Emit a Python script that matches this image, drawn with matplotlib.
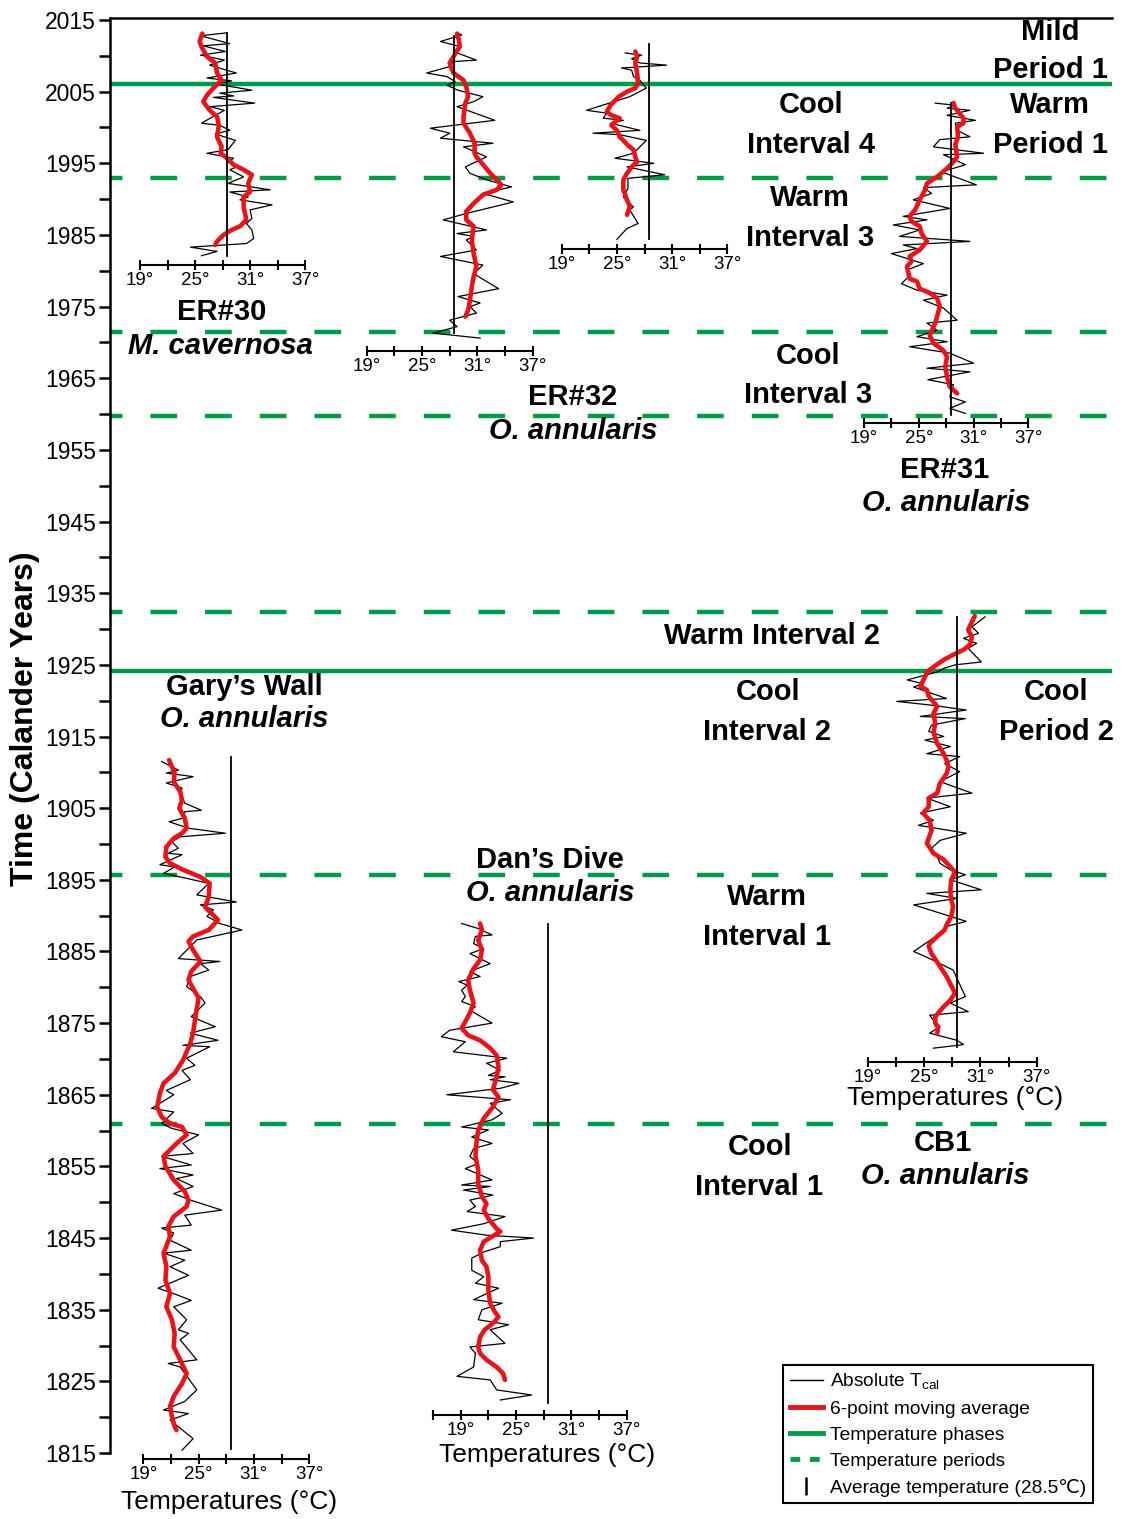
import numpy as np
import matplotlib
matplotlib.use("Agg")
import matplotlib.pyplot as plt
from matplotlib.lines import Line2D

plt.rcParams['font.family'] = ['Liberation Sans', 'DejaVu Sans']

# ---- data -------------------------------------------------------------
# temperature phase boundaries (solid) and period boundaries (dashed)
phase_years = [2006.0, 1924.2]
period_years = [1993.0, 1971.4, 1959.7, 1932.4, 1895.7, 1860.9]
avg_temp = 28.5

# ER#30 (M. cavernosa)
er30_year = [2013.2, 2012.8, 2011.7, 2011.4, 2010.6, 2010.1, 2009.4, 2008.7, 2007.6, 2006.9,
             2006.5, 2006.1, 2005.2, 2004.8, 2004.4, 2004.2, 2003.4, 2002.9, 2002.4, 2000.6,
             2000.3, 1999.6, 1999.1, 1998.2, 1996.9, 1996.4, 1995.7, 1995.2, 1994.5, 1994.1,
             1993.1, 1992.2, 1991.3, 1991.0, 1990.3, 1989.9, 1989.2, 1988.5, 1987.3, 1986.6,
             1985.7, 1984.5, 1983.8, 1983.3, 1982.7, 1982.1]
er30_temp = [28.4, 25.6, 28.8, 25.9, 28.3, 25.6, 28.2, 26.6, 29.5, 26.3,
             29.0, 27.2, 31.2, 27.7, 29.2, 27.0, 31.5, 26.6, 28.2, 25.7,
             27.7, 28.8, 27.2, 29.4, 28.6, 26.3, 29.2, 28.6, 29.5, 28.8,
             30.3, 28.6, 33.2, 28.8, 30.8, 29.9, 33.4, 31.0, 31.2, 30.6,
             31.2, 31.4, 30.6, 24.5, 27.4, 25.7]
er30_ma_year = [2013.1, 2012.0, 2011.3, 2009.9, 2009.0, 2007.6, 2006.6, 2005.5, 2004.5, 2003.6,
                2002.4, 2001.5, 2000.3, 1998.7, 1997.3, 1996.4, 1995.7, 1994.8, 1994.1, 1993.4,
                1992.2, 1991.0, 1990.3, 1988.9, 1987.1, 1986.2, 1985.7, 1985.0, 1984.1, 1983.6]
er30_ma_temp = [25.8, 25.5, 25.7, 26.3, 27.2, 27.4, 27.9, 27.0, 26.3, 25.9,
                26.6, 27.4, 27.6, 27.4, 27.9, 27.8, 28.5, 29.2, 30.3, 31.2,
                30.8, 31.0, 30.3, 30.3, 30.6, 29.9, 29.0, 28.1, 27.4, 27.2]

# ER#32 (O. annularis)
er32_year = [2013.2, 2012.9, 2012.0, 2011.3, 2010.6, 2009.4, 2009.2, 2008.5, 2007.6, 2007.1,
             2006.4, 2005.9, 2005.2, 2004.3, 2003.6, 2002.9, 2001.0, 1999.9, 1999.2, 1998.5,
             1997.8, 1997.3, 1995.9, 1994.5, 1993.6, 1992.7, 1991.7, 1990.8, 1989.6, 1988.0,
             1987.1, 1985.7, 1985.2, 1984.8, 1984.3, 1982.9, 1982.0, 1980.8, 1979.6, 1977.5,
             1976.4, 1975.5, 1975.0, 1974.1, 1973.1, 1972.2, 1971.3, 1970.6]
er32_temp = [28.8, 29.3, 27.0, 29.1, 28.4, 30.9, 28.4, 28.0, 25.5, 27.7,
             28.6, 27.7, 28.9, 31.6, 30.6, 28.8, 32.9, 25.9, 28.0, 27.0,
             32.7, 29.5, 32.0, 29.7, 30.2, 32.0, 34.7, 31.6, 34.9, 29.8,
             27.3, 32.0, 28.8, 30.6, 29.8, 30.9, 27.0, 31.6, 30.6, 33.3,
             28.9, 31.3, 30.2, 30.9, 28.0, 28.8, 26.2, 31.3]
er32_ma_year = [2013.1, 2012.2, 2011.3, 2010.3, 2009.0, 2007.6, 2006.6, 2005.7, 2004.3, 2003.4,
                2001.5, 2000.6, 1999.2, 1997.8, 1996.4, 1995.9, 1995.0, 1993.6, 1992.7, 1992.0,
                1991.3, 1990.6, 1989.4, 1988.3, 1987.1, 1986.2, 1984.3, 1982.4, 1980.6, 1979.2,
                1977.8, 1975.9, 1974.5, 1973.6]
er32_ma_temp = [28.8, 29.0, 29.1, 28.6, 28.0, 28.4, 29.5, 29.8, 30.0, 29.7,
                29.5, 29.5, 30.2, 30.7, 30.7, 30.9, 31.5, 32.4, 33.1, 33.6,
                33.1, 31.6, 30.6, 29.8, 29.8, 30.6, 30.4, 30.6, 30.9, 30.6,
                30.4, 30.2, 30.0, 29.7]

# unlabelled short record (top middle)
short_year = [2010.4, 2010.1, 2009.6, 2009.0, 2008.7, 2008.3, 2008.0, 2007.1, 2006.6, 2005.9,
              2005.5, 2004.3, 2002.4, 2002.0, 2001.3, 2001.0, 2000.6, 1999.6, 1999.2, 1999.0,
              1998.2, 1996.4, 1995.7, 1995.0, 1994.5, 1993.4, 1992.9, 1991.5, 1990.3, 1988.9,
              1988.5, 1986.6, 1985.9, 1984.4]
short_temp = [25.9, 27.7, 26.6, 27.5, 30.4, 25.5, 26.6, 26.8, 27.5, 27.9,
              28.2, 26.4, 21.7, 23.9, 23.5, 25.7, 24.3, 27.5, 22.4, 25.3,
              28.2, 26.8, 24.8, 29.0, 26.1, 30.2, 26.2, 26.2, 25.7, 26.8,
              26.4, 27.3, 26.1, 25.0]
short_ma_year = [2010.6, 2009.9, 2009.0, 2007.6, 2006.2, 2005.5, 2005.0, 2004.3, 2003.1, 2002.2,
                 2001.7, 2001.3, 2000.3, 1999.6, 1998.7, 1998.2, 1997.5, 1996.9, 1995.9, 1995.2,
                 1994.5, 1993.6, 1992.7, 1991.3, 1989.9, 1989.0, 1988.2, 1987.8]
short_ma_temp = [27.0, 27.2, 27.0, 27.2, 27.3, 27.0, 26.1, 25.2, 24.3, 23.9,
                 24.4, 25.3, 24.4, 25.0, 25.3, 25.7, 26.2, 26.8, 27.0, 27.2,
                 26.6, 26.1, 25.7, 25.7, 26.1, 26.4, 26.2, 26.1]

# ER#31 (O. annularis)
er31_year = [2003.4, 2003.1, 2002.7, 2002.4, 2001.7, 2001.0, 2000.6, 1999.6, 1998.7, 1998.3,
             1997.3, 1996.4, 1996.2, 1994.8, 1993.8, 1992.0, 1991.6, 1990.8, 1989.9, 1988.7,
             1987.6, 1987.1, 1986.4, 1985.7, 1984.8, 1984.1, 1983.6, 1983.1, 1982.4, 1981.0,
             1980.1, 1979.2, 1978.2, 1977.3, 1976.6, 1975.9, 1974.8, 1973.1, 1972.7, 1971.7,
             1970.8, 1970.1, 1969.4, 1968.5, 1967.1, 1966.4, 1965.9, 1964.8, 1964.1, 1962.4,
             1961.7, 1960.8, 1960.1]
er31_temp = [26.8, 29.0, 28.1, 30.6, 28.1, 31.2, 29.0, 29.2, 30.6, 27.3,
             26.6, 32.1, 27.7, 30.1, 27.5, 31.3, 25.5, 26.4, 24.4, 28.4,
             23.3, 25.9, 22.2, 25.1, 22.9, 30.6, 23.3, 24.8, 22.0, 25.5,
             23.7, 23.9, 23.1, 24.8, 28.1, 25.5, 27.7, 29.2, 25.9, 27.0,
             24.8, 28.1, 24.0, 28.4, 31.0, 25.9, 30.6, 26.0, 28.8, 28.4,
             30.1, 28.4, 30.1]
er31_ma_year = [2003.4, 2002.7, 2001.3, 2000.6, 2000.1, 1998.7, 1997.6, 1995.9, 1995.2, 1994.3,
                1993.1, 1992.2, 1991.3, 1989.9, 1988.5, 1987.6, 1986.9, 1986.2, 1985.2, 1984.1,
                1982.9, 1982.0, 1981.3, 1980.6, 1978.9, 1978.5, 1977.5, 1976.9, 1976.2, 1975.0,
                1973.6, 1972.7, 1971.0, 1969.9, 1968.9, 1968.0, 1966.6, 1965.2, 1963.8, 1962.9]
er31_ma_temp = [28.8, 29.0, 29.9, 29.9, 29.2, 29.3, 29.0, 29.2, 28.8, 28.1,
                27.0, 25.9, 25.7, 25.1, 24.6, 24.0, 24.2, 25.1, 25.3, 25.9,
                25.1, 24.0, 24.2, 23.7, 24.0, 24.8, 25.1, 26.2, 27.0, 27.3,
                27.0, 26.8, 26.2, 26.6, 27.7, 28.1, 27.9, 28.1, 28.4, 29.2]

# CB1 (O. annularis)
cb1_year = [1931.7, 1930.3, 1929.4, 1928.7, 1928.0, 1927.3, 1925.4, 1925.0, 1924.5, 1924.0,
            1922.9, 1922.4, 1921.9, 1920.3, 1919.9, 1919.4, 1918.7, 1917.8, 1917.5, 1916.6,
            1915.7, 1915.0, 1914.5, 1913.6, 1912.6, 1912.2, 1911.2, 1910.1, 1908.7, 1907.1,
            1906.4, 1905.2, 1904.3, 1903.3, 1902.6, 1901.5, 1900.5, 1899.4, 1898.2, 1897.3,
            1896.4, 1895.7, 1895.0, 1893.6, 1893.1, 1892.4, 1891.5, 1889.2, 1888.5, 1887.5,
            1885.0, 1884.0, 1882.4, 1878.7, 1877.8, 1876.6, 1876.1, 1875.4, 1874.5, 1873.6,
            1872.6, 1872.0, 1871.5]
cb1_temp = [31.5, 30.1, 30.8, 29.2, 30.6, 29.7, 31.1, 28.3, 27.1, 26.4,
            23.2, 24.8, 23.9, 27.4, 22.1, 25.6, 29.5, 24.6, 29.4, 25.8,
            25.5, 27.1, 25.1, 27.8, 25.3, 28.8, 27.2, 28.8, 26.7, 30.1,
            25.3, 27.8, 24.6, 26.0, 24.4, 29.5, 26.7, 25.8, 26.4, 26.7,
            27.8, 29.4, 27.8, 31.1, 25.3, 28.5, 23.9, 29.5, 27.4, 26.7,
            23.9, 25.6, 28.1, 29.4, 27.8, 29.7, 25.6, 26.0, 26.7, 25.6,
            28.5, 29.2, 26.0]
cb1_ma_year = [1931.8, 1931.0, 1929.9, 1928.9, 1927.8, 1927.1, 1926.4, 1925.7, 1924.7, 1924.0,
               1923.3, 1922.0, 1921.5, 1920.6, 1919.2, 1918.2, 1916.8, 1915.6, 1914.0, 1912.6,
               1911.7, 1910.8, 1909.8, 1908.5, 1907.1, 1906.4, 1905.2, 1904.3, 1903.3, 1901.9,
               1900.1, 1898.7, 1897.8, 1896.8, 1896.1, 1895.0, 1893.6, 1892.2, 1891.3, 1889.9,
               1888.7, 1888.0, 1887.1, 1886.1, 1885.7, 1884.7, 1882.9, 1881.5, 1879.2, 1878.2,
               1877.3, 1876.4, 1875.9, 1875.0, 1874.3, 1873.6]
cb1_ma_temp = [30.4, 30.1, 29.7, 30.1, 29.9, 29.2, 28.1, 27.1, 26.0, 25.3,
               25.1, 24.6, 25.3, 25.5, 26.4, 26.0, 26.2, 26.0, 26.4, 27.1,
               27.4, 27.6, 27.4, 26.7, 26.4, 25.5, 25.5, 24.9, 25.6, 25.8,
               25.3, 26.0, 27.1, 27.8, 28.3, 27.9, 27.8, 27.9, 28.1, 27.9,
               27.4, 27.2, 26.4, 25.6, 25.5, 25.8, 26.7, 27.4, 28.3, 27.8,
               27.1, 26.5, 26.2, 26.2, 26.5, 26.4]

# Gary's Wall (O. annularis)
gary_year = [1911.5, 1910.3, 1909.9, 1909.4, 1908.5, 1907.8, 1907.1, 1905.7, 1904.7, 1904.5,
             1903.6, 1903.1, 1902.2, 1901.5, 1901.0, 1900.3, 1899.4, 1898.7, 1898.5, 1897.1,
             1896.8, 1895.9, 1895.2, 1894.5, 1892.9, 1891.9, 1891.5, 1890.8, 1889.9, 1888.9,
             1888.0, 1886.6, 1884.0, 1883.6, 1883.3, 1882.4, 1881.5, 1880.1, 1878.7, 1877.8,
             1875.9, 1874.5, 1873.6, 1872.6, 1871.9, 1871.7, 1870.1, 1869.1, 1868.4, 1867.1,
             1865.6, 1865.0, 1863.1, 1862.6, 1861.0, 1860.3, 1859.4, 1858.2, 1856.8, 1856.4,
             1855.2, 1854.7, 1853.8, 1853.3, 1852.2, 1851.2, 1850.3, 1848.9, 1848.2, 1846.8,
             1846.4, 1845.7, 1844.7, 1843.3, 1842.9, 1841.9, 1841.0, 1839.8, 1838.0, 1837.0,
             1836.3, 1835.4, 1834.5, 1833.6, 1832.2, 1831.7, 1830.8, 1828.0, 1827.5, 1827.0,
             1823.8, 1822.2, 1821.0, 1820.5, 1819.6, 1817.0, 1815.4]
gary_temp = [21.0, 22.8, 21.5, 24.4, 21.5, 23.2, 23.0, 23.5, 25.3, 23.5,
             23.3, 21.8, 23.9, 27.9, 23.0, 22.1, 22.8, 21.7, 23.2, 20.8,
             22.4, 21.2, 23.7, 26.1, 24.8, 29.1, 25.2, 26.6, 25.9, 27.3,
             29.7, 24.8, 22.8, 27.3, 25.2, 26.1, 24.1, 23.7, 25.2, 25.7,
             24.2, 26.8, 24.1, 27.1, 23.3, 26.2, 23.7, 24.6, 23.2, 24.1,
             21.5, 22.3, 19.9, 22.3, 21.0, 22.1, 25.0, 23.3, 24.4, 21.0,
             24.2, 20.8, 24.4, 22.6, 24.4, 22.3, 24.1, 27.5, 23.5, 24.2,
             21.0, 22.3, 21.9, 24.2, 21.2, 23.5, 21.9, 23.9, 20.6, 22.8,
             24.2, 22.3, 23.0, 23.7, 22.8, 23.9, 23.0, 24.8, 21.7, 23.0,
             24.8, 23.5, 21.2, 23.9, 21.9, 24.4, 23.2]
gary_ma_year = [1911.7, 1910.8, 1909.9, 1908.7, 1907.3, 1906.1, 1905.0, 1903.6, 1902.2, 1901.5,
                1900.8, 1899.6, 1898.2, 1897.3, 1896.4, 1895.4, 1894.5, 1892.6, 1891.2, 1890.3,
                1889.4, 1888.0, 1887.1, 1886.4, 1885.2, 1883.6, 1882.2, 1881.0, 1879.4, 1878.5,
                1877.0, 1875.4, 1873.6, 1872.2, 1869.8, 1868.0, 1866.6, 1865.2, 1863.3, 1861.9,
                1861.0, 1860.5, 1859.4, 1858.2, 1856.4, 1855.0, 1853.1, 1851.5, 1850.3, 1849.4,
                1848.0, 1846.6, 1845.2, 1842.9, 1841.0, 1839.1, 1837.3, 1835.4, 1833.6, 1831.7,
                1829.8, 1828.0, 1826.1, 1824.7, 1822.9, 1821.5, 1820.1, 1818.7, 1818.2]
gary_ma_temp = [21.8, 22.1, 22.4, 22.3, 23.0, 23.2, 22.9, 23.5, 23.7, 23.2,
                22.3, 21.5, 21.4, 21.9, 23.3, 25.2, 26.2, 26.1, 25.7, 26.4,
                27.1, 26.1, 24.4, 23.9, 24.4, 25.2, 24.2, 23.9, 24.6, 25.0,
                24.8, 24.6, 24.4, 24.1, 23.3, 22.4, 21.2, 20.8, 20.5, 21.0,
                21.9, 23.2, 23.7, 22.6, 21.2, 21.4, 22.3, 23.5, 23.9, 23.7,
                22.3, 21.7, 21.9, 21.2, 21.5, 21.4, 21.9, 21.5, 22.1, 22.4,
                22.3, 23.0, 23.7, 23.2, 22.3, 21.9, 22.1, 22.4, 22.6]

# Dan's Dive (O. annularis)
dan_year = [1888.9, 1888.2, 1887.3, 1887.1, 1886.1, 1885.4, 1884.7, 1883.3, 1882.2, 1881.5,
            1880.8, 1880.3, 1879.6, 1878.7, 1878.0, 1877.3, 1876.8, 1875.0, 1874.0, 1873.1,
            1872.4, 1871.0, 1870.1, 1869.4, 1868.4, 1867.7, 1867.5, 1867.1, 1866.6, 1865.9,
            1865.0, 1864.3, 1863.8, 1862.4, 1861.5, 1860.5, 1860.1, 1859.1, 1858.2, 1857.5,
            1856.4, 1855.4, 1854.7, 1853.1, 1852.4, 1852.2, 1851.7, 1851.0, 1850.3, 1849.4,
            1848.7, 1848.0, 1847.0, 1846.1, 1845.4, 1845.0, 1844.5, 1843.8, 1843.1, 1842.2,
            1840.5, 1839.6, 1838.7, 1838.0, 1836.4, 1835.9, 1835.0, 1833.6, 1832.9, 1832.2,
            1830.3, 1829.8, 1828.9, 1827.0, 1825.7, 1825.2, 1823.8, 1823.1, 1822.4]
dan_temp = [19.1, 20.9, 22.4, 20.6, 20.4, 21.5, 20.0, 22.2, 20.0, 21.1,
            18.8, 19.7, 19.1, 19.5, 19.1, 20.6, 20.0, 22.4, 17.8, 16.9,
            19.5, 18.2, 24.0, 21.8, 23.3, 22.0, 23.8, 22.2, 25.3, 23.3,
            17.5, 24.4, 22.2, 23.5, 22.4, 19.1, 22.0, 20.2, 22.4, 20.4,
            20.0, 20.9, 19.5, 22.4, 19.1, 22.2, 19.3, 22.5, 20.0, 20.6,
            19.7, 23.8, 21.5, 18.0, 21.8, 26.9, 23.3, 23.3, 21.6, 20.2,
            20.2, 21.5, 20.6, 23.1, 20.4, 23.5, 21.3, 20.9, 24.2, 22.2,
            23.8, 20.0, 20.6, 20.4, 18.6, 22.2, 22.9, 26.7, 23.3]
dan_ma_year = [1888.9, 1888.0, 1886.6, 1885.2, 1883.8, 1882.6, 1881.0, 1879.6, 1877.8, 1876.4,
               1875.2, 1874.3, 1873.3, 1872.6, 1871.5, 1870.5, 1868.9, 1867.5, 1865.7, 1864.7,
               1863.3, 1861.7, 1860.1, 1858.2, 1856.4, 1854.5, 1852.6, 1850.8, 1849.8, 1848.9,
               1847.7, 1846.3, 1845.9, 1845.2, 1844.5, 1843.3, 1841.9, 1841.0, 1839.6, 1837.7,
               1835.9, 1834.7, 1834.0, 1833.1, 1832.2, 1831.2, 1829.8, 1828.9, 1828.0, 1827.0,
               1826.1, 1825.2]
dan_ma_temp = [21.1, 21.3, 20.9, 21.3, 21.1, 20.4, 19.8, 20.0, 20.4, 20.0,
               19.5, 19.1, 19.8, 21.1, 22.2, 22.9, 23.1, 22.9, 22.5, 23.1,
               22.5, 21.5, 20.9, 20.7, 20.6, 20.9, 20.9, 21.3, 21.8, 21.5,
               22.0, 22.9, 23.3, 22.4, 21.5, 21.1, 21.3, 21.8, 22.0, 22.0,
               22.2, 22.7, 23.1, 22.5, 21.6, 21.1, 20.9, 21.1, 21.8, 22.9,
               23.6, 23.8]

# ---- layout -----------------------------------------------------------
W, H = 1125, 1519
PX_PER_YR = 7.165
Y1815 = 1453          # pixel row of 1815
YR_LO = 1815 - (H - Y1815) / PX_PER_YR
YR_HI = 1815 + Y1815 / PX_PER_YR
GREEN = '#009a49'
RED = '#e8141b'

fig = plt.figure(figsize=(W / 100, H / 100), dpi=100)

# main time axis
ax = fig.add_axes([110 / W, (H - Y1815) / H, 1002 / W, (Y1815 - 18) / H])
ax.set_ylim(1815, 1815 + (Y1815 - 18) / PX_PER_YR)
ax.set_xlim(0, 1)
ax.spines['right'].set_visible(False)
ax.spines['bottom'].set_visible(False)
ax.spines['left'].set_linewidth(1.8)
ax.spines['top'].set_linewidth(1.8)
ticks = np.arange(1815, 2016, 5)
ax.set_yticks(ticks)
ax.set_yticklabels([str(t) if (t - 1815) % 10 == 0 else '' for t in ticks])
ax.tick_params(axis='y', length=8, width=1.8, labelsize=16.5, pad=2)
ax.set_xticks([])

for yr in phase_years:
    ax.axhline(yr, color=GREEN, lw=3.2)
for yr in period_years:
    ax.axhline(yr, color=GREEN, lw=3.2, ls=(3.2, (6, 6.3)))

fig.text(25 / W, 1 - 719 / H, 'Time (Calander Years)', rotation=90,
         ha='center', va='center', fontsize=23, fontweight='bold')


def draw_record(raw_y, raw_t, ma_y, ma_t, x19, scale, axis_year, avg_span, tick_lo=19):
    a = fig.add_axes([0, 0, 1, 1])
    a.patch.set_visible(False)
    a.set_xlim(19 - x19 / scale, 19 + (W - x19) / scale)
    a.set_ylim(YR_LO, YR_HI)
    for s in ['top', 'right', 'left']:
        a.spines[s].set_visible(False)
    a.spines['bottom'].set_position(('data', axis_year))
    a.spines['bottom'].set_bounds(tick_lo, 37)
    a.spines['bottom'].set_linewidth(1.5)
    tk = np.arange(tick_lo, 38, 3)
    a.set_xticks(tk)
    a.set_xticklabels([f'{t}°' if (t - 19) % 6 == 0 else '' for t in tk])
    a.tick_params(axis='x', direction='inout', length=7, width=1.5, labelsize=13.5, pad=1.5)
    a.set_yticks([])
    a.plot(raw_t, raw_y, color='black', lw=0.9)
    a.plot(ma_t, ma_y, color=RED, lw=3.3, solid_capstyle='round', solid_joinstyle='round')
    a.plot([avg_temp, avg_temp], avg_span, color='black', lw=1.3)


draw_record(er30_year, er30_temp, er30_ma_year, er30_ma_temp, 140, 9.17, 1980.8, (1982.1, 2013.2))
draw_record(er32_year, er32_temp, er32_ma_year, er32_ma_temp, 366.7, 9.22, 1968.8, (1971.3, 2012.7))
draw_record(short_year, short_temp, short_ma_year, short_ma_temp, 561.7, 9.2, 1983.0, (1984.4, 2011.6))
draw_record(er31_year, er31_temp, er31_ma_year, er31_ma_temp, 864, 9.13, 1958.7, (1959.9, 2003.4))
draw_record(cb1_year, cb1_temp, cb1_ma_year, cb1_ma_temp, 867.7, 9.39, 1869.6, (1871.7, 1931.7))
draw_record(gary_year, gary_temp, gary_ma_year, gary_ma_temp, 143.3, 9.22, 1814.1, (1815.5, 1912.1))
draw_record(dan_year, dan_temp, dan_ma_year, dan_ma_temp, 460.7, 9.22, 1820.3, (1822.0, 1888.8), tick_lo=16)


def label(px, py, s, **kw):
    fig.text(px / W, 1 - py / H, s, ha='center', va='center', **kw)


bold = dict(fontsize=21, fontweight='bold')
ital = dict(fontsize=21, fontweight='bold', fontstyle='italic')
for px, py, s in [(1050, 32, 'Mild'), (1050, 70, 'Period 1'),
                  (811, 105, 'Cool'), (811, 145, 'Interval 4'),
                  (1050, 105, 'Warm'), (1050, 145, 'Period 1'),
                  (810, 198, 'Warm'), (810, 238, 'Interval 3'),
                  (808, 356, 'Cool'), (808, 395, 'Interval 3'),
                  (772, 636, 'Warm Interval 2'),
                  (768, 692, 'Cool'), (767, 732, 'Interval 2'),
                  (1056, 692, 'Cool'), (1056, 732, 'Period 2'),
                  (767, 897, 'Warm'), (767, 937, 'Interval 1'),
                  (760, 1147, 'Cool'), (759, 1187, 'Interval 1'),
                  (222, 312, 'ER#30'), (573, 397, 'ER#32'), (945, 470, 'ER#31'),
                  (244, 687, 'Gary’s Wall'), (550, 860, 'Dan’s Dive'), (943, 1143, 'CB1')]:
    label(px, py, s, **bold)
for px, py, s in [(220, 346, 'M. cavernosa'), (573, 431, 'O. annularis'),
                  (946, 503, 'O. annularis'), (244, 719, 'O. annularis'),
                  (550, 893, 'O. annularis'), (945, 1176, 'O. annularis')]:
    label(px, py, s, **ital)
for px, py in [(229, 1502), (547, 1455), (955, 1098)]:
    label(px, py, 'Temperatures (°C)', fontsize=19)

handles = [Line2D([], [], color='black', lw=1),
           Line2D([], [], color=RED, lw=3.5),
           Line2D([], [], color=GREEN, lw=3.5),
           Line2D([], [], color=GREEN, lw=3.5, ls=(0, (2, 2))),
           Line2D([], [], color='black', marker='|', ls='none', markersize=13, mew=1.8)]
names = ['Absolute T$_{\\mathregular{cal}}$', '6-point moving average', 'Temperature phases',
         'Temperature periods', 'Average temperature (28.5℃)']
leg = fig.legend(handles, names, loc='upper left', bbox_to_anchor=(783 / W, 1 - 1365 / H),
                 fontsize=13.8, frameon=True, fancybox=False, framealpha=1, edgecolor='black',
                 handlelength=1.75, handletextpad=0.35, borderpad=0.35, labelspacing=0.45,
                 borderaxespad=0)
leg.get_frame().set_linewidth(1.5)

fig.savefig('out.png', dpi=100)
